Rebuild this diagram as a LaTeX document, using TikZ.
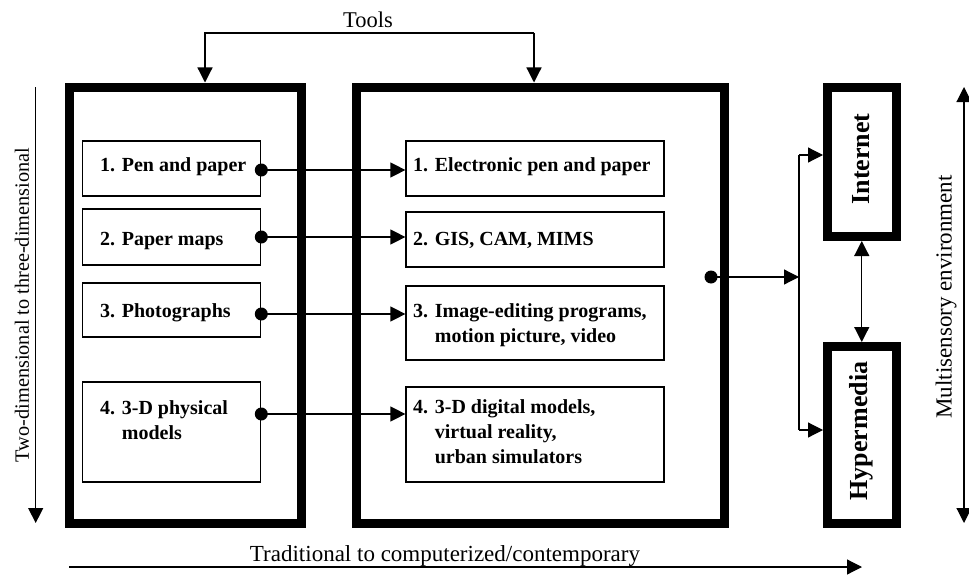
\documentclass[tikz,border=0pt]{standalone}
\usepackage{fontspec}
\setmainfont{Liberation Serif}
\usetikzlibrary{arrows.meta}
\begin{document}
\begin{tikzpicture}[x=1pt,y=-1pt,
  bigbox/.style={draw, line width=9pt, inner sep=0pt},
  smallbox/.style={draw, line width=1.2pt, inner sep=0pt},
  conn/.style={line width=1.2pt, -{Triangle[length=15pt,width=15pt]}},
  dconn/.style={line width=1.2pt, {Triangle[length=15pt,width=15pt]}-{Triangle[length=15pt,width=15pt]}},
  plain/.style={line width=1.2pt},
  itemtext/.style={anchor=base west, inner sep=0pt, align=left, font=\fontsize{20}{25}\selectfont\bfseries},
  boxlabel/.style={rotate=90, inner sep=0pt, font=\fontsize{26}{30}\selectfont\bfseries},
  axislabel/.style={inner sep=0pt}
]
\useasboundingbox (0,0) rectangle (969,578);

% big frames
\node[bigbox, minimum width=231.5pt, minimum height=436pt] (TB) at (185.25,305) {};
\node[bigbox, minimum width=368pt, minimum height=436pt] (CB) at (540.5,305) {};
\node[bigbox, minimum width=68.5pt, minimum height=149.5pt] (NET) at (861.75,161.75) {};
\node[bigbox, minimum width=68.5pt, minimum height=176.5pt] (HYP) at (861.75,434.75) {};
\node[boxlabel] (NETt) at (861,159) {Internet};
\node[boxlabel] (HYPt) at (861,431) {Hypermedia};

% small boxes
\node[smallbox, minimum width=178pt, minimum height=55pt] (L1) at (171.7,168.5) {};
\node[smallbox, minimum width=178pt, minimum height=56pt] (L2) at (171.7,237) {};
\node[smallbox, minimum width=178pt, minimum height=54pt] (L3) at (171.7,310) {};
\node[smallbox, minimum width=178pt, minimum height=100pt] (L4) at (171.7,432) {};
\node[smallbox, minimum width=258pt, minimum height=55pt] (R1) at (535,168.5) {};
\node[smallbox, minimum width=258pt, minimum height=55pt] (R2) at (535,239.5) {};
\node[smallbox, minimum width=258pt, minimum height=74pt] (R3) at (535,323) {};
\node[smallbox, minimum width=258pt, minimum height=95pt] (R4) at (535,434.5) {};

% texts (base = baseline of the last line)
\node[itemtext] (L1t) at (100,171) {1. Pen and paper};
\node[itemtext] (L2t) at (100,245) {2. Paper maps};
\node[itemtext] (L3t) at (100,317) {3. Photographs};
\node[itemtext] (L4t) at (100,439) {4. 3-D physical\\\hphantom{4. }models};
\node[itemtext] (R1t) at (413,171) {1. Electronic pen and paper};
\node[itemtext] (R2t) at (413,245) {2. GIS, CAM, MIMS};
\node[itemtext] (R3t) at (413,342) {3. Image-editing programs,\\\hphantom{3. }motion picture, video};
\node[itemtext] (R4t) at (413,463) {4. 3-D digital models,\\\hphantom{4. }virtual reality,\\\hphantom{4. }urban simulators};

% row connectors
\coordinate (y1) at (0,170);
\coordinate (y2) at (0,237);
\coordinate (y3) at (0,314);
\coordinate (y4) at (0,414);
\draw[conn] (L1.east |- y1) -- (R1.west |- y1);
\draw[conn] (L2.east |- y2) -- (R2.west |- y2);
\draw[conn] (L3.east |- y3) -- (R3.west |- y3);
\draw[conn] (L4.east |- y4) -- (R4.west |- y4);
\fill (L1.east |- y1) circle (6.5pt);
\fill (L2.east |- y2) circle (6.5pt);
\fill (L3.east |- y3) circle (6.5pt);
\fill (L4.east |- y4) circle (6.5pt);

% tools
\node[axislabel, font=\fontsize{22.5}{26}\selectfont] (tools) at (368,20) {Tools};
\coordinate (tl) at (205,33);
\coordinate (tr) at (534,33);
\draw[conn] (tr) -- (tl) -- (TB.north -| tl);
\draw[conn] (tr) -- (CB.north -| tr);

% to internet / hypermedia
\coordinate (cd) at (711,277);
\coordinate (bj) at (799,277);
\coordinate (bt) at (799,155);
\coordinate (bb) at (799,430);
\fill (cd) circle (6.5pt);
\draw[conn] (cd) -- (bj);
\draw[plain] (bt) -- (bb);
\draw[conn] (bt) -- (NET.west |- bt);
\draw[conn] (bb) -- (HYP.west |- bb);
\draw[dconn] (NET.south) -- (HYP.north);

% axes
\coordinate (la1) at (35.7,87);
\coordinate (la2) at (35.7,523);
\draw[conn] (la1) -- (la2);
\node[axislabel, rotate=90, font=\fontsize{20.3}{24}\selectfont] (lal) at (22,305) {Two-dimensional to three-dimensional};
\coordinate (ra1) at (964,87);
\coordinate (ra2) at (964,523);
\draw[dconn] (ra1) -- (ra2);
\node[axislabel, rotate=90, font=\fontsize{23}{26}\selectfont] (ral) at (946,297) {Multisensory environment};
\coordinate (ba1) at (69,567);
\coordinate (ba2) at (862,567);
\draw[conn] (ba1) -- (ba2);
\node[axislabel, anchor=base, font=\fontsize{23}{26}\selectfont] (bal) at (445,561) {Traditional to computerized/contemporary};
\end{tikzpicture}
\end{document}
